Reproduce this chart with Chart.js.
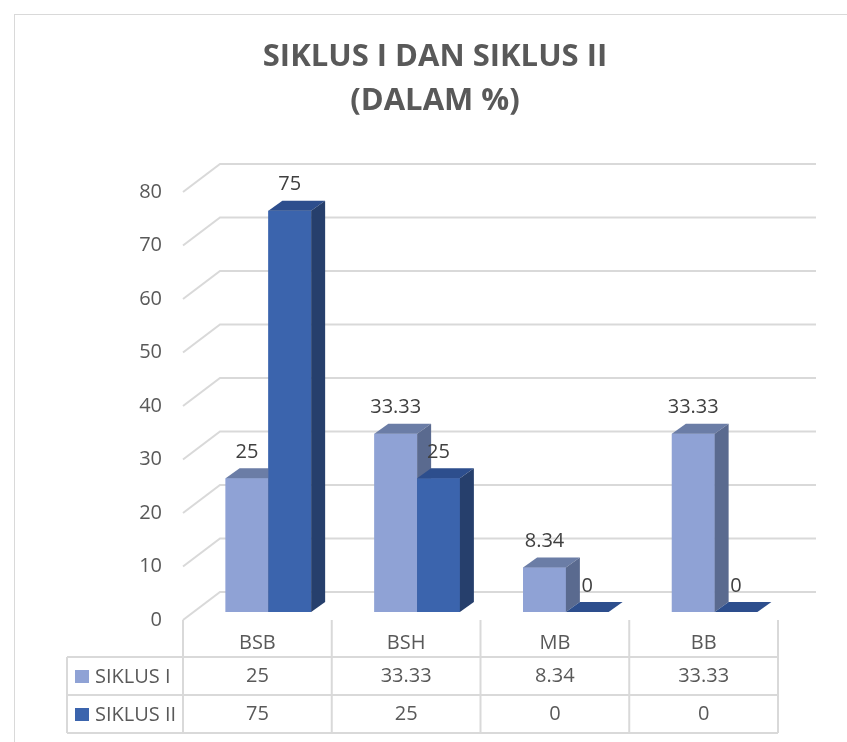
<!DOCTYPE html>
<html>
<head>
<meta charset="utf-8">
<script src="https://cdn.jsdelivr.net/npm/chart.js@4.4.0/dist/chart.umd.min.js"></script>
<style>
  html, body { margin: 0; padding: 0; background: #fff; }
</style>
</head>
<body>
<canvas id="chart" width="847" height="742"></canvas>
<script>
var categories = ["BSB", "BSH", "MB", "BB"];
var siklus1 = [25, 33.33, 8.34, 33.33];
var siklus2 = [75, 25, 0, 0];
var seriesNames = ["SIKLUS I", "SIKLUS II"];
var valueLabels = [["25", "33.33", "8.34", "33.33"], ["75", "25", "0", "0"]];
var titleLines = ["SIKLUS I DAN SIKLUS II", "(DALAM %)"];

var FONT = "'Open Sans', 'Noto Sans', sans-serif";
var DX = 14, DY = 10; // bar depth
var faces = [
  { front: "#8fa2d5", top: "#6b7da6", side: "#5a6a8f" },
  { front: "#3b64ad", top: "#2d4e8d", side: "#263f6c" }
];

function poly(ctx, pts, color) {
  ctx.beginPath();
  ctx.moveTo(pts[0][0], pts[0][1]);
  for (var i = 1; i < pts.length; i++) ctx.lineTo(pts[i][0], pts[i][1]);
  ctx.closePath();
  ctx.fillStyle = color;
  ctx.fill();
}

var depthPlugin = {
  id: "depth",
  beforeDraw(chart) {
    var ctx = chart.ctx;
    ctx.save();
    ctx.fillStyle = "#fff";
    ctx.fillRect(0, 0, chart.width, chart.height);
    ctx.strokeStyle = "#d9d9d9";
    ctx.lineWidth = 1;
    ctx.strokeRect(14.5, 14.5, chart.width, chart.height);
    // title
    ctx.fillStyle = "#595959";
    ctx.font = "bold 31px " + FONT;
    ctx.textAlign = "center";
    ctx.textBaseline = "middle";
    ctx.fillText(titleLines[0], 435, 57);
    ctx.fillText(titleLines[1], 435, 101);
    ctx.restore();
  },
  beforeDatasetsDraw(chart) {
    // back wall + side wall grid lines
    var ctx = chart.ctx, y = chart.scales.y, area = chart.chartArea;
    ctx.save();
    ctx.strokeStyle = "#d9d9d9";
    ctx.lineWidth = 2;
    y.ticks.forEach(function (t) {
      var py = y.getPixelForValue(t.value);
      ctx.beginPath();
      ctx.moveTo(area.left - 11, py + 8);
      ctx.lineTo(area.left + 26, py - 20);
      ctx.lineTo(area.right + 27, py - 20);
      ctx.stroke();
    });
    ctx.restore();
  },
  afterDatasetsDraw(chart) {
    var ctx = chart.ctx;
    ctx.save();
    for (var i = 0; i < categories.length; i++) {
      for (var d = 0; d < 2; d++) {
        var el = chart.getDatasetMeta(d).data[i];
        var l = el.x - el.width / 2, r = el.x + el.width / 2;
        var t = el.y, b = el.base, f = faces[d];
        if (b - t > 0) {
          ctx.fillStyle = f.front;
          ctx.fillRect(l, t, r - l, b - t);
        }
        poly(ctx, [[l, t], [l + DX, t - DY], [r + DX, t - DY], [r, t]], f.top);
        if (b - t > 0) poly(ctx, [[r, t], [r + DX, t - DY], [r + DX, b - DY], [r, b]], f.side);
      }
    }
    ctx.fillStyle = "#404040";
    ctx.font = "20px " + FONT;
    ctx.textAlign = "center";
    ctx.textBaseline = "middle";
    for (var d2 = 0; d2 < 2; d2++) {
      chart.getDatasetMeta(d2).data.forEach(function (el, k) {
        ctx.fillText(valueLabels[d2][k], el.x, el.y - 26);
      });
    }
    ctx.restore();
  },
  afterDraw(chart) {
    // data table under the plot
    var ctx = chart.ctx, x = chart.scales.x, y = chart.scales.y;
    var colW = (x.right - x.left) / categories.length;
    var x0 = x.left - 11;
    var y0 = y.getPixelForValue(0) + 8;
    var rowTop = y0 + 37, rowH = 38, legLeft = 67;
    var xEnd = x0 + colW * categories.length;
    ctx.save();
    ctx.strokeStyle = "#d9d9d9";
    ctx.lineWidth = 2;
    ctx.beginPath();
    for (var k = 0; k <= categories.length; k++) {
      ctx.moveTo(x0 + k * colW, y0);
      ctx.lineTo(x0 + k * colW, rowTop + 2 * rowH);
    }
    ctx.moveTo(legLeft, rowTop);
    ctx.lineTo(legLeft, rowTop + 2 * rowH);
    for (var rr = 0; rr <= 2; rr++) {
      ctx.moveTo(legLeft, rowTop + rr * rowH);
      ctx.lineTo(xEnd, rowTop + rr * rowH);
    }
    ctx.stroke();

    ctx.fillStyle = "#595959";
    ctx.font = "20px " + FONT;
    ctx.textAlign = "center";
    ctx.textBaseline = "middle";
    categories.forEach(function (c, i) {
      var cx = x0 + (i + 0.5) * colW;
      ctx.fillText(c, cx, y0 + 23);
      for (var r = 0; r < 2; r++) ctx.fillText(valueLabels[r][i], cx, rowTop + r * rowH + rowH / 2);
    });
    ctx.textAlign = "left";
    for (var s = 0; s < 2; s++) {
      var cy = rowTop + s * rowH + rowH / 2;
      ctx.fillStyle = faces[s].front;
      ctx.fillRect(75, cy - 6, 14, 13);
      ctx.fillStyle = "#595959";
      ctx.fillText(seriesNames[s], 95, cy + 1);
    }
    ctx.restore();
  }
};

new Chart(document.getElementById("chart"), {
  type: "bar",
  data: {
    labels: categories,
    datasets: [
      { label: seriesNames[0], data: siklus1, backgroundColor: faces[0].front },
      { label: seriesNames[1], data: siklus2, backgroundColor: faces[1].front }
    ]
  },
  options: {
    responsive: false,
    animation: false,
    events: [],
    categoryPercentage: 0.575,
    barPercentage: 1,
    layout: { padding: { top: 184, bottom: 130, right: 58, left: 0 } },
    plugins: { legend: { display: false }, title: { display: false }, tooltip: { enabled: false } },
    scales: {
      x: { display: false },
      y: {
        min: 0,
        max: 80,
        ticks: { stepSize: 10, padding: 32, labelOffset: 8, color: "#595959", font: { family: FONT, size: 20 } },
        grid: { display: false, drawTicks: false },
        border: { display: false },
        afterFit: function (scale) { scale.width = 194; }
      }
    }
  },
  plugins: [depthPlugin]
});
</script>
</body>
</html>
